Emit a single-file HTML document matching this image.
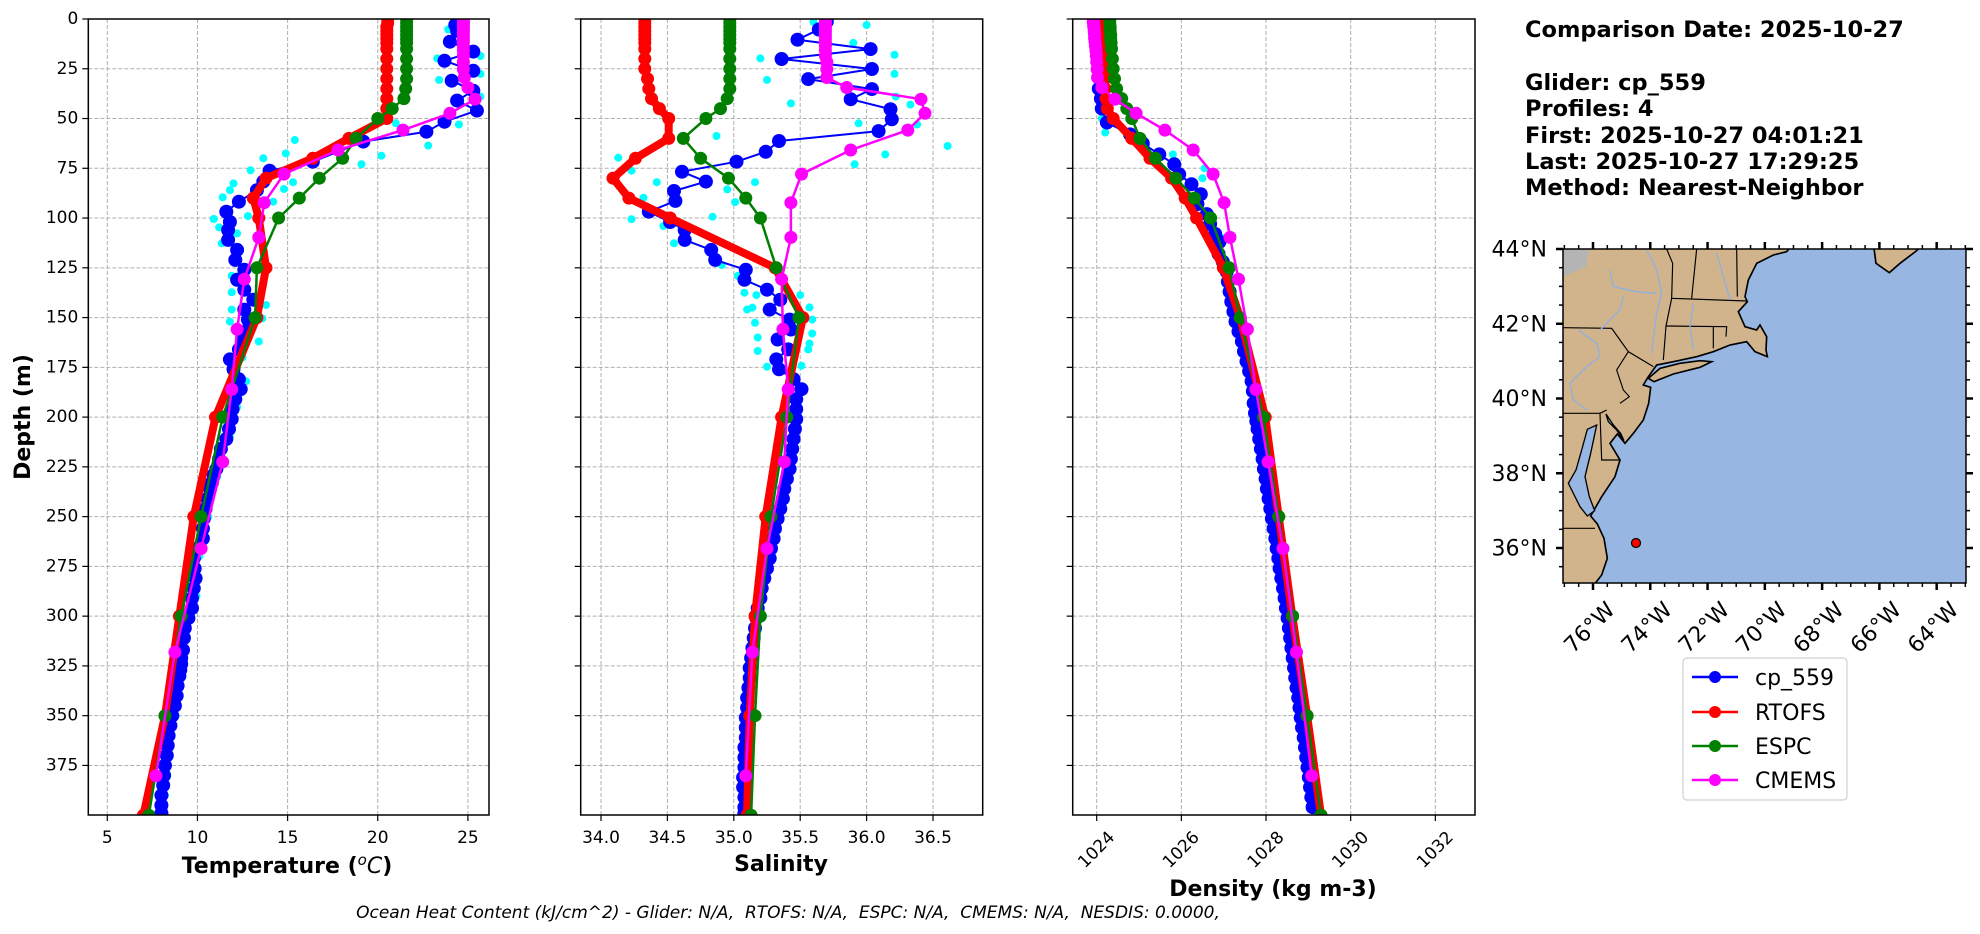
<!DOCTYPE html>
<html><head><meta charset="utf-8"><style>
body{margin:0;background:#fff;}
svg{display:block;font-family:"DejaVu Sans","Liberation Sans",sans-serif;}
</style></head><body>
<svg id="fig" width="1980" height="934" viewBox="0 0 1980 934" xmlns="http://www.w3.org/2000/svg">
<rect width="1980" height="934" fill="#fff"/>
<g id="panels"></g>
<g font-weight="bold" font-size="22.5" fill="#000">
<text x="1525" y="37">Comparison Date: 2025-10-27</text>
<text x="1525" y="90">Glider: cp_559</text>
<text x="1525" y="116">Profiles: 4</text>
<text x="1525" y="143">First: 2025-10-27 04:01:21</text>
<text x="1525" y="169">Last: 2025-10-27 17:29:25</text>
<text x="1525" y="195">Method: Nearest-Neighbor</text>
</g>
<g>
<rect x="1563" y="249" width="403" height="334" fill="#97b6e1"/>
<clipPath id="mapclip"><rect x="1563" y="249" width="403" height="334"/></clipPath>
<g clip-path="url(#mapclip)">
<g transform="translate(1500,230) scale(0.33333)">
<polygon fill="#d2b48c" stroke="#000" stroke-width="5" points="150,40 880,40 860,65 820,75 770,100 745,150 735,200 742,215 715,245 735,290 770,300 780,285 800,320 798,360 802,380 765,365 740,335 690,345 640,365 590,380 520,395 470,405 445,440 430,465 452,472 446,520 430,570 400,610 375,640 352,612 330,640 360,690 345,740 305,800 285,835 272,858 292,882 312,925 322,985 305,1035 270,1080 150,1080"/>
<polygon fill="#97b6e1" stroke="#000" stroke-width="4" points="284,842 268,800 255,740 272,670 290,585 262,598 245,660 228,720 205,760 240,830 262,858"/>
<polygon fill="#97b6e1" stroke="#000" stroke-width="4" points="372,632 350,600 325,575 318,552 340,585 362,610"/>
<polygon fill="#d2b48c" stroke="#000" stroke-width="5" points="462,455 520,432 600,412 635,395 600,392 540,400 480,415 445,445"/>
<polygon fill="#d2b48c" stroke="#000" stroke-width="5" points="1120,40 1128,100 1168,128 1200,100 1250,62 1270,40"/>
<polygon fill="#b4b4b4" points="150,40 270,40 258,110 190,140 150,150"/>
<g fill="none" stroke="#000" stroke-width="3.5">
<polyline points="500,57 518,100 515,205 740,213"/>
<polyline points="515,205 498,288 490,390"/>
<polyline points="498,288 680,290 678,320"/>
<polyline points="640,290 640,355"/>
<polyline points="590,57 575,205"/>
<polyline points="710,57 712,200"/>
<polyline points="190,293 335,295 360,330 385,365 460,410"/>
<polyline points="385,365 350,420 370,480 388,500 360,520"/>
<polyline points="190,550 300,550 305,690 360,690"/>
<polyline points="300,550 320,540"/>
<polyline points="190,895 285,895"/>
</g>
<g fill="none" stroke="#8fb0e0" stroke-width="4">
<polyline points="440,60 470,120 485,190 470,250 455,370"/>
<polyline points="330,120 340,170 410,185 470,190"/>
<polyline points="370,200 360,240 330,270 300,300"/>
<polyline points="235,300 290,340 300,380 260,410 210,460 220,510 260,540"/>
<polyline points="580,220 570,290 580,360"/>
<polyline points="650,70 670,140 690,210"/>
</g>
</g>
</g>
<rect x="1563" y="249" width="403" height="334" fill="none" stroke="#000" stroke-width="1.5"/>
<g id="mapticks"></g>
<circle cx="1636" cy="543" r="4.5" fill="#ff0000" stroke="#000" stroke-width="1.2"/>
</g>
<g>
<rect x="1683" y="658" width="164" height="142" rx="4" fill="#fff" stroke="#d0d0d0" stroke-width="1.2"/>
<g><line x1="1692" y1="677" x2="1738" y2="677" stroke="#0000ff" stroke-width="2.5"/><circle cx="1715" cy="677" r="6" fill="#0000ff"/><text x="1755" y="685" font-size="22">cp_559</text></g>
<g><line x1="1692" y1="712" x2="1738" y2="712" stroke="#ff0000" stroke-width="2.5"/><circle cx="1715" cy="712" r="6" fill="#ff0000"/><text x="1755" y="720" font-size="22">RTOFS</text></g>
<g><line x1="1692" y1="746" x2="1738" y2="746" stroke="#008000" stroke-width="2.5"/><circle cx="1715" cy="746" r="6" fill="#008000"/><text x="1755" y="754" font-size="22">ESPC</text></g>
<g><line x1="1692" y1="780" x2="1738" y2="780" stroke="#ff00ff" stroke-width="2.5"/><circle cx="1715" cy="780" r="6" fill="#ff00ff"/><text x="1755" y="788" font-size="22">CMEMS</text></g>
</g>
<text x="788" y="918" text-anchor="middle" font-size="17" font-style="italic" xml:space="preserve">Ocean Heat Content (kJ/cm^2) - Glider: N/A,  RTOFS: N/A,  ESPC: N/A,  CMEMS: N/A,  NESDIS: 0.0000,</text>
</svg>
<script>
const depthTicks = [0,25,50,75,100,125,150,175,200,225,250,275,300,325,350,375];
const tempTicks = [5,10,15,20,25];
const salTicks = [34.0,34.5,35.0,35.5,36.0,36.5];
const densTicks = [1024,1026,1028,1030,1032];

const rtofsDepth = [0,2,4,6,8,10,12,15,20,25,30,35,40,45,50,60,70,80,90,100,125,150,200,250,300,350,400];
const rtofsTemp = [20.55,20.55,20.5,20.5,20.5,20.5,20.5,20.5,20.5,20.5,20.5,20.5,20.5,20.5,20.5,18.4,16.4,13.8,13.1,13.4,13.8,13.3,11.0,9.8,9.0,8.2,7.0];
const rtofsSal = [34.33,34.33,34.33,34.33,34.33,34.33,34.33,34.33,34.33,34.33,34.35,34.36,34.38,34.44,34.51,34.51,34.26,34.09,34.21,34.52,35.31,35.52,35.36,35.24,35.16,35.12,35.10];
const rtofsDens = [1024.12,1024.12,1024.13,1024.13,1024.14,1024.14,1024.15,1024.16,1024.17,1024.18,1024.19,1024.2,1024.22,1024.25,1024.39,1024.83,1025.26,1025.77,1026.09,1026.36,1026.99,1027.39,1027.98,1028.3,1028.62,1028.97,1029.3];

const espcDepth = [0,2,4,6,8,10,12,15,20,25,30,35,40,45,50,60,70,80,90,100,125,150,200,250,300,350,400];
const espcTemp = [21.6,21.6,21.6,21.6,21.6,21.6,21.6,21.6,21.6,21.6,21.6,21.55,21.45,20.8,20.0,18.8,18.05,16.76,15.65,14.5,13.3,13.2,11.4,10.2,9.1,8.2,7.3];
const espcSal = [34.97,34.97,34.97,34.97,34.97,34.97,34.97,34.97,34.97,34.97,34.97,34.97,34.95,34.9,34.79,34.62,34.75,34.96,35.09,35.2,35.32,35.49,35.4,35.28,35.2,35.16,35.13];
const espcDens = [1024.31,1024.31,1024.32,1024.32,1024.33,1024.33,1024.34,1024.35,1024.37,1024.39,1024.42,1024.47,1024.59,1024.71,1024.83,1025.02,1025.39,1025.87,1026.31,1026.69,1027.13,1027.39,1027.94,1028.3,1028.63,1028.97,1029.3];

const cmemsDepth = [0.5,1.5,2.6,3.8,5.1,6.4,7.9,9.6,11.4,13.5,15.8,18.5,21.6,25.2,29.4,34.4,40.3,47.4,55.8,65.8,77.9,92.3,109.7,130.7,155.9,186.1,222.5,266.0,318.1,380.2];
const cmemsTemp = [24.75,24.75,24.75,24.75,24.75,24.75,24.75,24.75,24.75,24.75,24.75,24.75,24.75,24.75,24.8,25.0,25.4,24.0,21.4,17.8,14.8,13.7,13.4,12.6,12.2,11.9,11.4,10.2,8.75,7.7];
const cmemsSal = [35.69,35.69,35.69,35.69,35.69,35.69,35.69,35.69,35.69,35.69,35.69,35.69,35.7,35.7,35.7,35.85,36.41,36.44,36.31,35.88,35.51,35.43,35.43,35.36,35.37,35.41,35.38,35.25,35.14,35.09];
const cmemsDens = [1023.92,1023.92,1023.93,1023.93,1023.94,1023.94,1023.95,1023.95,1023.96,1023.97,1023.98,1023.99,1024.0,1024.01,1024.02,1024.12,1024.43,1024.93,1025.61,1026.28,1026.75,1027.01,1027.15,1027.35,1027.56,1027.76,1028.05,1028.4,1028.72,1029.08];

const gliderTempDepth = [0.5,3,6,11.4,16.4,21,26,31,36,41,46,51.6,56.6,61.6,71.7,76.2,81.7,86,91.8,96.8,102,106,111,116,121,126,131,136,141,146,151,156,161,166,171,176,181,186,191,196,201,206,211,216,221,226,229,233,236,241,246,251,256,261,266,271,276,281,286,291,296,301,306,311,317,321,324,327,330,335,340,345,350,355,360,365,370,375,380,385,390,395,399];
const gliderTemp = [24.5,24.3,24.4,24.0,25.3,23.7,25.3,24.1,25.3,24.4,25.5,23.7,22.7,19.2,16.4,14.0,13.65,13.3,12.3,11.6,11.8,11.7,11.7,12.2,12.1,12.6,12.2,12.6,13.1,12.6,12.8,12.8,12.5,12.3,11.8,12.0,12.3,12.4,12.1,11.95,11.9,11.75,11.6,11.3,11.2,11.05,10.9,10.8,10.7,10.55,10.45,10.35,10.3,10.3,10.0,9.8,9.85,9.9,9.8,9.7,9.7,9.5,9.3,9.25,9.2,9.1,9.1,9.05,9.0,8.9,8.85,8.75,8.6,8.5,8.4,8.35,8.3,8.2,8.15,8.1,8.0,8.0,8.0];
const gliderSalDepth = [1.3,5.3,10.4,15.1,20.1,25.1,30.2,35.2,40.3,45.3,50.4,56.3,61.3,66.7,71.7,76.7,81.7,86.4,91.4,96.8,102,106,111,116,121,126,131,136,141,146,151,156,161,166,171,176,181,186,191,196,201,206,211,216,221,226,231,236,241,246,251,256,261,266,271,276,281,286,291,296,301,306,311,316,321,326,331,336,341,346,351,356,361,366,371,376,381,386,391,396,399];
const gliderSal = [35.7,35.64,35.48,36.03,35.36,36.04,35.56,36.04,35.88,36.18,36.19,36.09,35.34,35.24,35.02,34.61,34.79,34.55,34.56,34.36,34.52,34.63,34.63,34.83,34.86,35.09,35.08,35.25,35.35,35.27,35.42,35.43,35.33,35.41,35.32,35.34,35.45,35.51,35.47,35.47,35.47,35.46,35.45,35.44,35.43,35.42,35.4,35.38,35.37,35.35,35.33,35.31,35.3,35.28,35.27,35.25,35.23,35.21,35.2,35.18,35.17,35.16,35.15,35.14,35.13,35.12,35.12,35.11,35.1,35.1,35.09,35.09,35.09,35.08,35.08,35.08,35.07,35.07,35.08,35.08,35.08];
const gliderDensDepth = [1,5,10,15,20,25,30,35,40,45,52,58,62.5,68,73,78,83,88,93,98,103,108,112,118,122,127,132,137,142,147,152,157,162,167,172,177,182,187,193,198,202,206,211,216,221,226,231,236,241,246,251,256,261,266,271,276,281,286,291,296,301,306,311,316,321,326,331,336,341,346,351,356,361,366,371,376,381,386,391,396];
const gliderDens = [1024.02,1024.03,1024.05,1024.03,1024.07,1024.04,1024.08,1024.05,1024.1,1024.12,1024.24,1024.79,1025.09,1025.48,1025.83,1025.95,1026.24,1026.46,1026.38,1026.6,1026.68,1026.8,1026.9,1026.88,1026.98,1027.07,1027.1,1027.14,1027.18,1027.23,1027.28,1027.35,1027.43,1027.48,1027.54,1027.6,1027.66,1027.69,1027.71,1027.74,1027.77,1027.8,1027.84,1027.88,1027.92,1027.95,1027.99,1028.02,1028.06,1028.1,1028.14,1028.18,1028.22,1028.25,1028.29,1028.32,1028.36,1028.4,1028.44,1028.47,1028.51,1028.54,1028.57,1028.6,1028.63,1028.66,1028.69,1028.72,1028.76,1028.79,1028.82,1028.85,1028.89,1028.92,1028.95,1028.98,1029.01,1029.04,1029.07,1029.1];

const rawTempDepth = [5.2,19.8,30.6,18.6,27.6,39,53,63.6,52.4,60.8,67.5,70,73,68.7,76,82,82.6,86,85.4,89.6,91.8,100.5,104.7,99,107.7,112.7,129,137.3,143.7,146,150.4,152,162,170,182,195,210,230,250,270,290,310,330,350,370,390];
const rawTemp = [23.9,23.3,23.4,25.7,25.7,25.7,24.5,22.8,21.0,15.4,14.9,13.65,19.1,20.2,12.95,15.3,12.0,11.8,14.8,11.4,14.2,10.9,11.2,12.8,12.2,11.35,11.9,11.9,13.8,11.9,13.6,11.8,13.4,12.5,12.7,12.2,11.8,11.1,10.6,10.1,9.95,9.4,9.15,8.8,8.45,8.2];
const rawSalDepth = [19.8,30.6,18,27.6,39,43,53,63.8,68,73,52.4,42.4,58.8,69.7,76.2,82,82,85.6,92,89.8,99.3,100.6,104,112.7,123.6,129,137.5,138.7,138.7,144.9,146,145,152.6,151,158,160,163,166,166.8,174.7,174.2,1.5,3,12];
const rawSal = [35.2,35.25,36.21,36.21,36.22,36.33,36.38,36.61,36.14,35.91,35.94,35.43,34.87,34.13,34.23,34.42,35.16,34.95,35.01,34.32,34.84,34.23,34.47,34.55,34.91,35.03,35.08,35.17,35.5,35.57,35.1,35.14,35.16,35.59,35.59,35.18,35.57,35.56,35.18,35.25,35.51,35.6,36.0,35.9];
const rawDensDepth = [40,44,57,50,75,68,80,110];
const rawDens = [1024.1,1024.15,1024.2,1024.12,1026.55,1025.8,1026.5,1027.0];

const Y0 = 19, YPX = 1.9905, YBOT = 815;
function yS(d){ return Y0 + d*YPX; }
const panels = [
  {key:'temperature', x0:88.3, x1:489, f:v=>107.3+(v-5)*18.03, ticks:tempTicks, fmt:v=>String(v)},
  {key:'salinity', x0:580.7, x1:982.7, f:v=>601+(v-34)*132.8, ticks:salTicks, fmt:v=>v.toFixed(1)},
  {key:'density', x0:1072.7, x1:1475, f:v=>1096.7+(v-1024)*42.33, ticks:densTicks, fmt:v=>String(v)}
];
const NS='http://www.w3.org/2000/svg';
function mk(tag, attrs, parent){
  const el=document.createElementNS(NS,tag);
  for(const k in attrs) el.setAttribute(k, attrs[k]);
  parent.appendChild(el);
  return el;
}
const root=document.getElementById('panels');

function drawSeries(g, p, depths, vals, color, lw, r, name, noLine){
  const s=mk('g',{},g);
  
  
  if(!noLine){
    const pts=depths.map((d,i)=>p.f(vals[i]).toFixed(1)+','+yS(d).toFixed(1)).join(' ');
    mk('polyline',{points:pts,fill:'none',stroke:color,'stroke-width':lw,'stroke-linejoin':'round'},s);
  }
  depths.forEach((d,i)=>{
    const c=mk('circle',{cx:p.f(vals[i]).toFixed(1),cy:yS(d).toFixed(1),r:r,fill:color},s);
    
    
  });
}

panels.forEach((p,pi)=>{
  const g=mk('g',{},root);
  
  
  const clipId='clip'+pi;
  const cp=mk('clipPath',{id:clipId},g);
  mk('rect',{x:p.x0,y:Y0,width:p.x1-p.x0,height:YBOT-Y0},cp);
  const grid=mk('g',{stroke:'#b0b0b0','stroke-width':1,'stroke-dasharray':'4,2'},g);
  
  
  p.ticks.forEach(t=>{ const x=p.f(t); mk('line',{x1:x,x2:x,y1:Y0,y2:YBOT},grid); });
  depthTicks.forEach(d=>{ mk('line',{x1:p.x0,x2:p.x1,y1:yS(d),y2:yS(d)},grid); });
  const sg=mk('g',{'clip-path':'url(#'+clipId+')'},g);
  if(pi===0){
    drawSeries(sg,p,rawTempDepth,rawTemp,'#00ffff',0,4,'raw-glider-temperature',true);
    drawSeries(sg,p,gliderTempDepth,gliderTemp,'#0000ff',2,7,'glider-temperature');
    drawSeries(sg,p,rtofsDepth,rtofsTemp,'#ff0000',8,6.5,'rtofs-temperature');
    drawSeries(sg,p,espcDepth,espcTemp,'#008000',2.5,6.5,'espc-temperature');
    drawSeries(sg,p,cmemsDepth,cmemsTemp,'#ff00ff',2.5,6.5,'cmems-temperature');
  } else if(pi===1){
    drawSeries(sg,p,rawSalDepth,rawSal,'#00ffff',0,4,'raw-glider-salinity',true);
    drawSeries(sg,p,gliderSalDepth,gliderSal,'#0000ff',2,7,'glider-salinity');
    drawSeries(sg,p,rtofsDepth,rtofsSal,'#ff0000',8,6.5,'rtofs-salinity');
    drawSeries(sg,p,espcDepth,espcSal,'#008000',2.5,6.5,'espc-salinity');
    drawSeries(sg,p,cmemsDepth,cmemsSal,'#ff00ff',2.5,6.5,'cmems-salinity');
  } else {
    drawSeries(sg,p,rawDensDepth,rawDens,'#00ffff',0,4,'raw-glider-density',true);
    drawSeries(sg,p,gliderDensDepth,gliderDens,'#0000ff',2,7,'glider-density');
    drawSeries(sg,p,rtofsDepth,rtofsDens,'#ff0000',8,6.5,'rtofs-density');
    drawSeries(sg,p,espcDepth,espcDens,'#008000',2.5,6.5,'espc-density');
    drawSeries(sg,p,cmemsDepth,cmemsDens,'#ff00ff',2.5,6.5,'cmems-density');
  }
  const fr=mk('rect',{x:p.x0,y:Y0,width:p.x1-p.x0,height:YBOT-Y0,fill:'none',stroke:'#000','stroke-width':1.5},g);
  
  
  const xt=mk('g',{},g);
  
  
  p.ticks.forEach(t=>{
    const x=p.f(t);
    mk('line',{x1:x,x2:x,y1:YBOT,y2:YBOT+6,stroke:'#000','stroke-width':1.2},xt);
    let tx;
    if(pi===2){
      tx=mk('text',{x:x,y:850,'text-anchor':'middle','dominant-baseline':'central','font-size':17,transform:'rotate(-45 '+x+' 850)'},xt);
    } else {
      tx=mk('text',{x:x,y:843,'text-anchor':'middle','font-size':17},xt);
    }
    tx.textContent=p.fmt(t);
    
    
  });
  const yt=mk('g',{},g);
  
  
  depthTicks.forEach(d=>{
    mk('line',{x1:p.x0-6,x2:p.x0,y1:yS(d),y2:yS(d),stroke:'#000','stroke-width':1.2},yt);
    if(pi===0){
      const tx=mk('text',{x:p.x0-10,y:yS(d),'text-anchor':'end','dominant-baseline':'central','font-size':17},yt);
      tx.textContent=String(d);
      
      
    }
  });
});

(function(){
  const fig=document.getElementById('panels');
  const t1=mk('text',{x:287,y:873,'text-anchor':'middle','font-size':22,'font-weight':'bold'},fig);
  
  
  t1.innerHTML='Temperature (<tspan font-style="italic" font-weight="normal" dy="-8" font-size="15">o</tspan><tspan font-style="italic" font-weight="normal" dy="8">C</tspan>)';
  const t2=mk('text',{x:781,y:871,'text-anchor':'middle','font-size':22,'font-weight':'bold'},fig);
  
  
  t2.textContent='Salinity';
  const t3=mk('text',{x:1273,y:896,'text-anchor':'middle','font-size':22,'font-weight':'bold'},fig);
  
  
  t3.textContent='Density (kg m-3)';
  const t4=mk('text',{x:30,y:417,'text-anchor':'middle','font-size':22,'font-weight':'bold',transform:'rotate(-90 30 417)'},fig);
  
  
  t4.textContent='Depth (m)';
})();

const lonTicks=[-76,-74,-72,-70,-68,-66,-64];
const latTicks=[44,42,40,38,36];
(function(){
  const g=document.getElementById('mapticks');
  const lonX=l=>1593+(l+76)*28.64;
  const latY=l=>249+(44-l)*37.375;
  const L=1563,R=1966,T=249,B=583;
  for(let l=-77;l<=-63;l+=0.5){
    const x=lonX(l); if(x<L||x>R) continue;
    const major=lonTicks.includes(l);
    const len=major?7:4, w=major?2.5:1.5;
    mk('line',{x1:x,x2:x,y1:B,y2:B+len,stroke:'#000','stroke-width':w},g);
    mk('line',{x1:x,x2:x,y1:T,y2:T-len,stroke:'#000','stroke-width':w},g);
  }
  for(let l=35;l<=44;l+=0.5){
    const y=latY(l); if(y<T-0.5||y>B) continue;
    const major=latTicks.includes(l);
    const len=major?7:4, w=major?2.5:1.5;
    mk('line',{x1:L-len,x2:L,y1:y,y2:y,stroke:'#000','stroke-width':w},g);
    mk('line',{x1:R,x2:R+len,y1:y,y2:y,stroke:'#000','stroke-width':w},g);
  }
  lonTicks.forEach(l=>{
    const x=lonX(l)-3;
    const t=mk('text',{x:x,y:628,'text-anchor':'middle','dominant-baseline':'central','font-size':22,transform:'rotate(-45 '+x+' 628)'},g);
    t.textContent=Math.abs(l)+'°W';
    
    
  });
  latTicks.forEach(l=>{
    const t=mk('text',{x:1547,y:latY(l)+1,'text-anchor':'end','dominant-baseline':'central','font-size':22},g);
    t.textContent=l+'°N';
    
    
  });
})();
</script>
</body></html>
